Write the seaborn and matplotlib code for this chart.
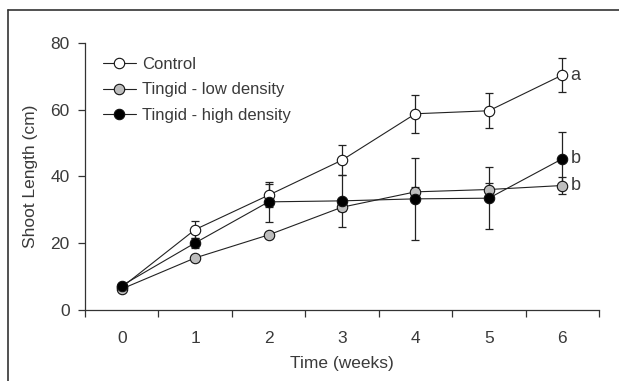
import matplotlib
matplotlib.use("Agg")
import matplotlib.pyplot as plt
from matplotlib.lines import Line2D
import seaborn as sns
import numpy as np

# Shoot length (cm) per week, means and standard errors
weeks = [0, 1, 2, 3, 4, 5, 6]
control_mean = [6.8, 24.1, 34.4, 44.9, 58.8, 59.7, 70.4]
control_err = [0.8, 2.6, 3.4, 4.6, 5.7, 5.3, 5.0]
low_mean = [6.3, 15.6, 22.5, 30.8, 35.4, 36.1, 37.3]
low_err = [0.6, 1.0, 1.0, 1.2, 1.4, 2.0, 2.5]
high_mean = [7.3, 20.1, 32.4, 32.7, 33.3, 33.5, 45.3]
high_err = [0.7, 1.5, 6.0, 7.8, 12.2, 9.2, 8.1]
series_names = ["Control", "Tingid - low density", "Tingid - high density"]
face_colors = ["white", "#bdbdbd", "black"]
sig_letters = ["a", "b", "b"]

x_ticks = [-0.5, 0.5, 1.5, 2.5, 3.5, 4.5, 5.5, 6.5]
y_ticks = [0, 20, 40, 60, 80]

sns.set_style("white")
plt.rcParams["font.family"] = ["Liberation Sans", "DejaVu Sans"]
txt = "#3a3a3a"

fig = plt.figure(figsize=(6.19, 3.81), dpi=100)
ax = fig.add_axes([0.1373, 0.1864, 0.8304, 0.7007])

means = [control_mean, low_mean, high_mean]
errs = [control_err, low_err, high_err]

for m, e, fc, name in zip(means, errs, face_colors, series_names):
    ax.errorbar(weeks, m, yerr=e, fmt="none", ecolor="#222222",
                elinewidth=0.9, capsize=3.2, capthick=0.9, zorder=2)
    sns.lineplot(x=weeks, y=m, ax=ax, color="#222222", linewidth=0.8,
                 marker="o", markersize=7.5, markerfacecolor=fc,
                 markeredgecolor="#111111", markeredgewidth=0.8,
                 label=name, zorder=3)

# significance letters next to the last points
for m, letter in zip(means, sig_letters):
    ax.annotate(letter, (weeks[-1], m[-1]), xytext=(6, 0),
                textcoords="offset points", va="center", ha="left",
                fontsize=13, color=txt)

ax.set_xlim(-0.5, 6.5)
ax.set_ylim(0, 80)
ax.set_xticks(x_ticks)
ax.set_xticklabels([])
ax.set_xticks(weeks, minor=True)
ax.set_xticklabels([str(w) for w in weeks], minor=True)
ax.set_yticks(y_ticks)
ax.tick_params(axis="x", which="major", direction="out", length=5,
               width=0.9, color="#333333", bottom=True)
ax.tick_params(axis="x", which="minor", length=0, pad=15,
               labelsize=12.5, labelcolor=txt, bottom=True)
ax.tick_params(axis="y", direction="out", length=5, width=0.9,
               color="#333333", labelsize=12.5, labelcolor=txt, left=True, pad=6)

for side in ["top", "right"]:
    ax.spines[side].set_visible(False)
for side in ["left", "bottom"]:
    ax.spines[side].set_color("#333333")
    ax.spines[side].set_linewidth(0.9)

ax.set_xlabel("Time (weeks)", fontsize=12.5, color=txt, labelpad=7)
ax.set_ylabel("Shoot Length (cm)", fontsize=12.5, color=txt, labelpad=9)

leg = ax.legend(loc="upper left", bbox_to_anchor=(0.015, 0.985), frameon=False,
                fontsize=12, handlelength=2.0, handletextpad=0.35,
                labelspacing=0.62, borderaxespad=0.2)
for t in leg.get_texts():
    t.set_color(txt)

# outer frame lines along the top and left edges
fig.add_artist(Line2D([8 / 619, 1.0], [1 - 10 / 381, 1 - 10 / 381],
                      transform=fig.transFigure, color="#333333", linewidth=1.2))
fig.add_artist(Line2D([8 / 619, 8 / 619], [0.0, 1 - 10 / 381],
                      transform=fig.transFigure, color="#333333", linewidth=1.2))

fig.savefig("out.png", dpi=100)
